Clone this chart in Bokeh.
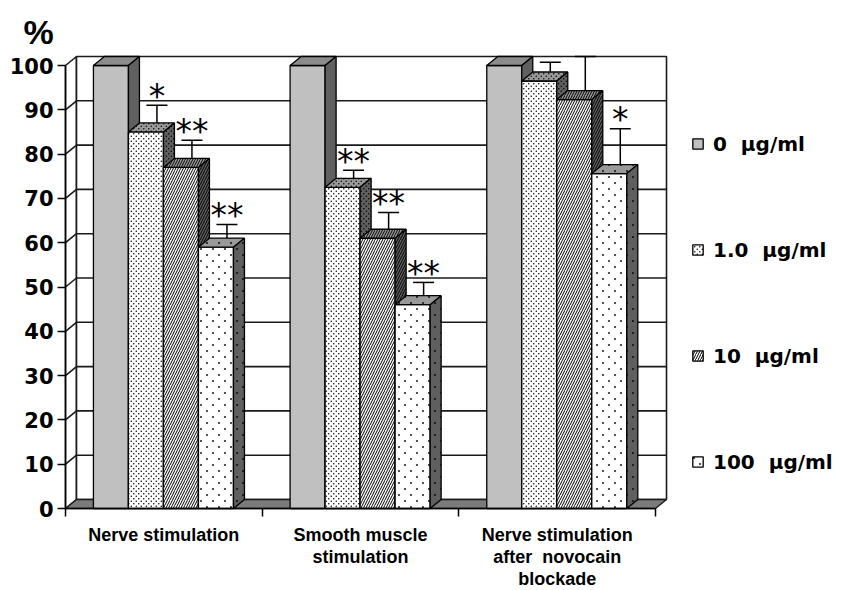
from bokeh.plotting import figure
from bokeh.models import Range1d, FixedTicker, Legend, LegendItem, CanvasTexture
from bokeh.core.properties import value
from bokeh.embed import file_html
from bokeh.resources import INLINE

# ---------------- data ----------------
categories = ["Nerve stimulation", "Smooth muscle\nstimulation",
              "Nerve stimulation\nafter\u00a0 novocain\nblockade"]
series_labels = ["0\u00a0 \u00b5g/ml", "1.0\u00a0 \u00b5g/ml", "10\u00a0 \u00b5g/ml", "100\u00a0 \u00b5g/ml"]
vals_0 = [100, 100, 100]
vals_1 = [85, 72.5, 96.5]
vals_2 = [77, 61, 92.3]
vals_3 = [59, 46, 75.6]
err_0 = [0, 0, 0]
err_1 = [4.0, 1.8, 2.2]
err_2 = [4.1, 3.8, 7.7]
err_3 = [3.1, 3.0, 8.1]
sig_0 = ["", "", ""]
sig_1 = ["*", "**", ""]
sig_2 = ["**", "**", ""]
sig_3 = ["**", "**", "*"]
y_ticks = [0, 10, 20, 30, 40, 50, 60, 70, 80, 90, 100]

values = [vals_0, vals_1, vals_2, vals_3]
errors = [err_0, err_1, err_2, err_3]
sigs = [sig_0, sig_1, sig_2, sig_3]

# ---------------- layout / projection constants ----------------
W, H = 843, 590
X0_PX, PX_PER_CAT = 65.0, 196.67      # pixel of x=0, pixels per category
Y0_PX, PX_PER_UNIT = 508.0, 4.43      # pixel (from top) of y=0, pixels per unit
DX = 11.0 / PX_PER_CAT                # 3-D depth, x
DY = 9.0 / PX_PER_UNIT                # 3-D depth, y
OFF, BW = 0.142, 0.178                # first bar offset and bar width (category units)
CAP = 10.5 / PX_PER_CAT
NCAT = len(categories)
YMAX = y_ticks[-1]

p = figure(width=W, height=H, output_backend="svg", toolbar_location=None,
           x_range=Range1d(-X0_PX / PX_PER_CAT, (W - X0_PX) / PX_PER_CAT),
           y_range=Range1d(-(H - Y0_PX) / PX_PER_UNIT, Y0_PX / PX_PER_UNIT),
           min_border_left=0, min_border_right=0, min_border_top=0, min_border_bottom=0,
           outline_line_color=None, background_fill_color="white", border_fill_color="white")
p.grid.visible = False

# ---------------- axes ----------------
ya = p.yaxis[0]
ya.ticker = FixedTicker(ticks=y_ticks, minor_ticks=[])
ya.bounds = (0, YMAX)
ya.fixed_location = 0
ya.major_tick_out = 8
ya.major_tick_in = 0
ya.minor_tick_out = 0
ya.minor_tick_in = 0
ya.major_label_standoff = 4
ya.major_label_text_font = "DejaVu Sans"
ya.major_label_text_font_style = "bold"
ya.major_label_text_font_size = "21px"
ya.major_label_text_color = "black"
ya.axis_line_width = 1.5
ya.axis_line_color = "black"
ya.major_tick_line_width = 1.5
ya.major_tick_line_color = "black"

xa = p.xaxis[0]
xa.ticker = FixedTicker(ticks=[i + 0.5 for i in range(NCAT)], minor_ticks=list(range(NCAT + 1)))
xa.major_label_overrides = {i + 0.5: c for i, c in enumerate(categories)}
xa.bounds = (0, NCAT)
xa.fixed_location = 0
xa.major_tick_out = 0
xa.major_tick_in = 0
xa.minor_tick_out = 8
xa.minor_tick_in = 0
xa.minor_tick_line_width = 1.5
xa.minor_tick_line_color = "black"
xa.major_label_standoff = 8
xa.major_label_text_font = "Liberation Sans"
xa.major_label_text_font_style = "bold"
xa.major_label_text_font_size = "18px"
xa.major_label_text_line_height = 1.12
xa.major_label_text_color = "black"
xa.axis_line_width = 1.5
xa.axis_line_color = "black"

# ---------------- walls & floor ----------------
p.patches(xs=[[0, DX, DX, 0], [DX, NCAT + DX, NCAT + DX, DX]],
          ys=[[0, DY, YMAX + DY, YMAX], [DY, DY, YMAX + DY, YMAX + DY]],
          fill_color="white", line_color="#1a1a1a", line_width=1.6)
grid_levels = [t for t in y_ticks if 0 < t < YMAX]
p.segment(x0=[DX] * len(grid_levels), y0=[t + DY for t in grid_levels],
          x1=[NCAT + DX] * len(grid_levels), y1=[t + DY for t in grid_levels],
          line_color="#1a1a1a", line_width=1.6)
p.segment(x0=[0] * len(grid_levels), y0=grid_levels,
          x1=[DX] * len(grid_levels), y1=[t + DY for t in grid_levels],
          line_color="#1a1a1a", line_width=1.6)
p.patches(xs=[[0, NCAT, NCAT + DX, DX]], ys=[[0, 0, DY, DY]],
          fill_color="#7b7b7b", line_color="#1a1a1a", line_width=1.4)

# ---------------- textures (stipple dots) ----------------
def dot_texture(tile, r):
    code = """
const args = Array.prototype.slice.call(arguments);
let c = args.find(a => a && typeof a.arc === "function");
if (!c) { const l = args.find(a => a && a.ctx && typeof a.ctx.arc === "function"); c = l.ctx; }
const S = %(tile)s;
c.canvas.width = S; c.canvas.height = S;
c.setTransform(1, 0, 0, 1, 0, 0);
c.clearRect(0, 0, S, S);
c.fillStyle = "#000000";
c.beginPath(); c.arc(S*0.25, S*0.25, %(r)s, 0, 2*Math.PI); c.fill();
c.beginPath(); c.arc(S*0.75, S*0.75, %(r)s, 0, 2*Math.PI); c.fill();
""" % dict(tile=tile, r=r)
    return CanvasTexture(code=code)

extra = {"dense": dot_texture(5, 0.75), "sparse": dot_texture(12, 0.9)}
styles = [
    dict(front="#c0c0c0", top="#8c8c8c", side="#606060", pattern=" ", scale=6, weight=1),
    dict(front="white", top="#999999", side="#5f5f5f", pattern="dense", scale=5, weight=1),
    dict(front="white", top="#999999", side="#5f5f5f", pattern="/", scale=5, weight=1),
    dict(front="white", top="#999999", side="#5f5f5f", pattern="sparse", scale=12, weight=1),
]

front_renderers = []
for j, vals in enumerate(values):
    st = styles[j]
    lefts = [i + OFF + j * BW for i in range(NCAT)]
    rights = [l + BW for l in lefts]
    hatch = dict(hatch_pattern=value(st["pattern"]), hatch_extra=extra,
                 hatch_scale=st["scale"], hatch_weight=st["weight"], hatch_color="black")
    r = p.quad(left=lefts, right=rights, bottom=[0] * NCAT, top=vals,
               fill_color=st["front"], line_color="black", line_width=1.3, **hatch)
    front_renderers.append(r)
    p.patches(xs=[[l, l + DX, rr + DX, rr] for l, rr in zip(lefts, rights)],
              ys=[[v, v + DY, v + DY, v] for v in vals],
              fill_color=st["top"], line_color="black", line_width=1.3, **hatch)
    p.patches(xs=[[rr, rr + DX, rr + DX, rr] for rr in rights],
              ys=[[0, DY, v + DY, v] for v in vals],
              fill_color=st["side"], line_color="black", line_width=1.3, **hatch)

# ---------------- error bars & significance marks ----------------
ex, ey0, ey1, tx, ty, tt = [], [], [], [], [], []
for j, vals in enumerate(values):
    for i in range(NCAT):
        if errors[j][i] <= 0:
            continue
        xc = i + OFF + j * BW + BW / 2 + DX
        ex.append(xc)
        ey0.append(vals[i] + DY)
        ey1.append(vals[i] + errors[j][i] + DY)
        if sigs[j][i]:
            tx.append(xc)
            ty.append(vals[i] + errors[j][i] + DY)
            tt.append(sigs[j][i])
p.segment(x0=ex, y0=ey0, x1=ex, y1=ey1, line_color="black", line_width=1.5)
p.segment(x0=[x - CAP for x in ex], y0=ey1, x1=[x + CAP for x in ex], y1=ey1,
          line_color="black", line_width=1.5)
p.text(x=tx, y=ty, text=tt, text_font=value("DejaVu Sans"), text_font_size="33px",
       text_align="center", text_baseline="middle", y_offset=-9, text_color="black")

# "%" unit label
p.text(x=[-27 / PX_PER_CAT], y=[(Y0_PX - 31.5) / PX_PER_UNIT], text=["%"],
       text_font=value("Liberation Sans"), text_font_style="bold", text_font_size="34px",
       text_align="center", text_baseline="middle", text_color="black")

# ---------------- legend ----------------
legend = Legend(items=[LegendItem(label=lab, renderers=[r])
                       for lab, r in zip(series_labels, front_renderers)],
                location=(691, 116), orientation="vertical",
                glyph_width=13, glyph_height=13, label_height=25, spacing=81,
                padding=0, margin=0, border_line_color=None, background_fill_alpha=0,
                label_text_font="DejaVu Sans", label_text_font_style="bold",
                label_text_font_size="20px", label_standoff=9, label_text_color="black")
p.add_layout(legend)

open("out.html", "w").write(file_html(p, INLINE))
